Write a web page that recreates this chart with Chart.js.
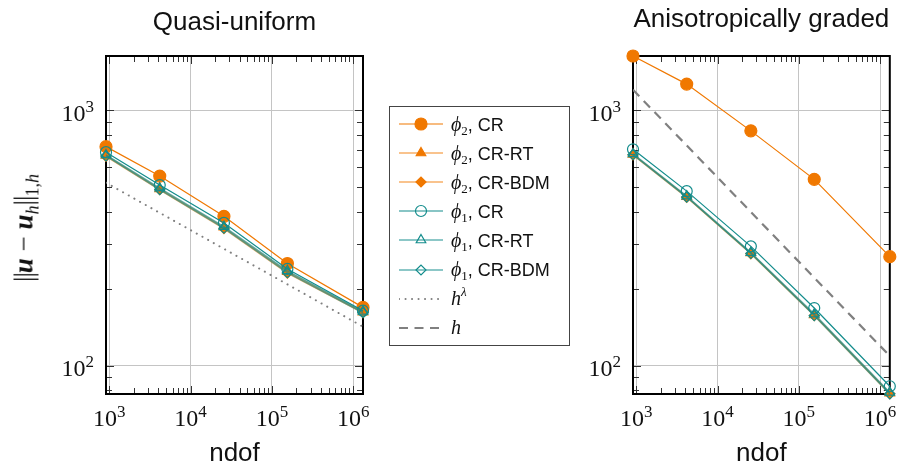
<!DOCTYPE html>
<html>
<head>
<meta charset="utf-8">
<script src="https://cdn.jsdelivr.net/npm/chart.js@4.4.0/dist/chart.umd.min.js"></script>
<style>
  body { margin: 0; background: #fff; }
  #wrap { position: relative; width: 897px; height: 467px; overflow: hidden; font-family: "Liberation Sans", Arial, sans-serif; }
  canvas.plot { position: absolute; top: 0; }
  #ylabel { position: absolute; left: 24px; top: 228px; transform: translate(-50%, -50%) rotate(-90deg);
            font-family: "Liberation Serif", "DejaVu Serif", serif; font-size: 27px; white-space: nowrap; color: #111; }
  #ylabel .bar { font-size: 27px; letter-spacing: -1px; font-weight: normal; }
  #ylabel sub { font-size: 18px; vertical-align: -6px; line-height: 0; }
  #legend { position: absolute; left: 389px; top: 106px; width: 181px; height: 240px; border: 1px solid #444; box-sizing: border-box; }
  .row { position: absolute; left: 9px; height: 22px; display: flex; align-items: center; font-size: 18px; color: #111; white-space: nowrap; }
  .row canvas { margin-right: 8px; }
  .m { font-family: "Liberation Serif", "DejaVu Serif", serif; font-style: italic; font-size: 20px; }
  .m sub { font-size: 13px; font-style: normal; vertical-align: -4px; line-height: 0; }
  .m sup { font-size: 13px; vertical-align: 9px; line-height: 0; }
</style>
</head>
<body>
<div id="wrap">
  <canvas id="left" class="plot" width="380" height="467" style="left:0;width:380px;height:467px"></canvas>
  <canvas id="right" class="plot" width="322" height="467" style="left:575px;width:322px;height:467px"></canvas>
  <div id="ylabel"><span class="bar">||</span><b><i>u</i></b> − <b><i>u</i></b><sub><i>h</i></sub><span class="bar">||</span><sub>1,<i>h</i></sub></div>
  <div id="legend"></div>
</div>
<script>
// degrees of freedom (x values)
const ndof = [910, 4170, 25700, 155000, 1320000];
const refNdof = [910, 1320000];

// Quasi-uniform meshes
const quasiPhi2CR  = [720, 552, 384, 251, 169];
const quasiPhi2RT  = [665, 492, 348, 233, 162];
const quasiPhi2BDM = [660, 488, 344, 230, 161];
const quasiPhi1CR  = [685, 509, 362, 239, 164];
const quasiPhi1RT  = [668, 495, 350, 235, 163];
const quasiPhi1BDM = [662, 489, 345, 231, 161];
const quasiHLambda = [520, 142];

// Anisotropically graded meshes
const anisoPhi2CR  = [1630, 1265, 830, 536, 267];
const anisoPhi2RT  = [672, 459, 276, 158, 78];
const anisoPhi2BDM = [668, 456, 274, 157, 77.5];
const anisoPhi1CR  = [703, 482, 293, 168, 83];
const anisoPhi1RT  = [674, 461, 277, 159, 78.5];
const anisoPhi1BDM = [669, 457, 275, 157, 77.5];
const anisoH       = [1202, 109];

const xTicks = [1e3, 1e4, 1e5, 1e6];
const yTicks = [1e2, 1e3];
const xRange = [910, 1320000];
const yRange = [77.4, 1630];

const ORANGE = '#f07800';
const ORANGE_FAINT = 'rgba(240,120,0,0.6)';
const TEAL = '#128c8c';
const TEAL_FAINT = 'rgba(18,140,140,0.65)';
const GRAY = '#808080';
const SANS = '"Liberation Sans", Arial, sans-serif';
const SERIF = '"Liberation Serif", "DejaVu Serif", serif';

const series = [
  {label: '<span class="m">ϕ<sub>2</sub></span>, CR',     line: ORANGE,      color: ORANGE, style: 'circle',   r: 6,   fill: true},
  {label: '<span class="m">ϕ<sub>2</sub></span>, CR-RT',  line: ORANGE_FAINT, color: ORANGE, style: 'triangle', r: 5.5, fill: true},
  {label: '<span class="m">ϕ<sub>2</sub></span>, CR-BDM', line: ORANGE_FAINT, color: ORANGE, style: 'rectRot',  r: 5,   fill: true},
  {label: '<span class="m">ϕ<sub>1</sub></span>, CR',     line: TEAL,        color: TEAL,   style: 'circle',   r: 5.5, fill: false},
  {label: '<span class="m">ϕ<sub>1</sub></span>, CR-RT',  line: TEAL_FAINT,  color: TEAL,   style: 'triangle', r: 5.5, fill: false},
  {label: '<span class="m">ϕ<sub>1</sub></span>, CR-BDM', line: TEAL_FAINT,  color: TEAL,   style: 'rectRot',  r: 5,   fill: false},
];
const refs = [
  {label: '<span class="m">h<sup>λ</sup></span>', dash: [0.1, 6.4], width: 2, cap: 'round'},
  {label: '<span class="m">h</span>', dash: [9, 6.5], width: 2.2, cap: 'butt'},
];

function pts(values, xs) {
  return values.map((v, i) => ({x: xs[i], y: v}));
}

function decadeValues(min, max) {
  const out = [];
  for (let d = Math.floor(Math.log10(min)); d <= Math.ceil(Math.log10(max)); d++) {
    for (let k = 1; k <= 9; k++) {
      const v = k * Math.pow(10, d);
      if (v >= min && v <= max) out.push({v, major: k === 1});
    }
  }
  return out;
}

// axis box + inside tick marks (pgfplots look)
const frame = {
  id: 'frame',
  beforeDatasetsDraw(chart) {
    const {ctx, chartArea: a, scales: {x, y}} = chart;
    ctx.save();
    ctx.strokeStyle = '#333';
    ctx.lineWidth = 1;
    ctx.beginPath();
    for (const t of decadeValues(x.min, x.max)) {
      const px = Math.round(x.getPixelForValue(t.v)) + 0.5;
      const len = t.major ? 8 : 6;
      ctx.moveTo(px, a.top); ctx.lineTo(px, a.top + len);
      ctx.moveTo(px, a.bottom); ctx.lineTo(px, a.bottom - len);
    }
    for (const t of decadeValues(y.min, y.max)) {
      const py = Math.round(y.getPixelForValue(t.v)) + 0.5;
      const len = t.major ? 8 : 6;
      ctx.moveTo(a.left, py); ctx.lineTo(a.left + len, py);
      ctx.moveTo(a.right, py); ctx.lineTo(a.right - len, py);
    }
    ctx.stroke();
    ctx.strokeStyle = '#000';
    ctx.lineWidth = 2;
    ctx.strokeRect(a.left, a.top, a.right - a.left, a.bottom - a.top);
    ctx.restore();
  },
  afterDraw(chart) {
    const {ctx, chartArea: a, scales: {x, y}} = chart;
    ctx.save();
    ctx.fillStyle = '#111';
    ctx.textBaseline = 'alphabetic';
    const pow = (exp, px, base, align) => {
      ctx.font = '24px ' + SERIF;
      const w1 = ctx.measureText('10').width;
      ctx.font = '17px ' + SERIF;
      const w2 = ctx.measureText(String(exp)).width;
      const left = align === 'center' ? px - (w1 + w2) / 2 : px - w1 - w2;
      ctx.textAlign = 'left';
      ctx.font = '24px ' + SERIF;
      ctx.fillText('10', left, base);
      ctx.font = '17px ' + SERIF;
      ctx.fillText(String(exp), left + w1, base - 9);
    };
    for (const v of xTicks) pow(Math.round(Math.log10(v)), x.getPixelForValue(v), a.bottom + 32, 'center');
    for (const v of yTicks) pow(Math.round(Math.log10(v)), a.left - 12, y.getPixelForValue(v) + 10.5, 'right');
    ctx.restore();
  }
};

function makeChart(id, title, titlePad, values, refValues, ref, yWidth, padRight) {
  const datasets = values.map((vals, i) => {
    const s = series[i];
    return {
      data: pts(vals, ndof),
      showLine: true,
      borderColor: s.line,
      borderWidth: s.line === s.color ? 1.2 : 1.5,
      pointStyle: s.style,
      pointRadius: s.r,
      pointHoverRadius: s.r,
      pointBorderColor: s.color,
      pointBackgroundColor: s.fill ? s.color : 'rgba(0,0,0,0)',
      pointBorderWidth: 1.2,
      clip: false,
      order: 20 - i
    };
  });
  datasets.push({
    data: pts(refValues, refNdof),
    showLine: true,
    borderColor: GRAY,
    borderWidth: ref.width,
    borderDash: ref.dash,
    borderCapStyle: ref.cap,
    pointRadius: 0,
    order: 100
  });
  return new Chart(document.getElementById(id), {
    type: 'scatter',
    data: {datasets},
    plugins: [frame],
    options: {
      responsive: false,
      animation: false,
      layout: {padding: {left: 0, right: padRight, top: 0, bottom: 0}},
      plugins: {
        legend: {display: false},
        tooltip: {enabled: false},
        title: {
          display: true, text: title, fullSize: false, color: '#111',
          font: {family: SANS, size: 26, weight: 'normal', lineHeight: 1},
          padding: titlePad
        }
      },
      scales: {
        x: {
          type: 'logarithmic', min: xRange[0], max: xRange[1],
          afterBuildTicks: s => { s.ticks = xTicks.map(v => ({value: v})); },
          afterFit: s => { s.height = 73; },
          ticks: {display: false},
          grid: {color: '#c4c4c4', lineWidth: 1, drawTicks: false},
          border: {display: false},
          title: {display: true, text: 'ndof', color: '#111',
                  font: {family: SANS, size: 26, lineHeight: 1}, padding: {top: 0, bottom: 0}}
        },
        y: {
          type: 'logarithmic', min: yRange[0], max: yRange[1],
          afterBuildTicks: s => { s.ticks = yTicks.map(v => ({value: v})); },
          afterFit: s => { s.width = yWidth; },
          ticks: {display: false},
          grid: {color: '#c4c4c4', lineWidth: 1, drawTicks: false},
          border: {display: false}
        }
      }
    }
  });
}

makeChart('left', 'Quasi-uniform', {top: 10, bottom: 20},
  [quasiPhi2CR, quasiPhi2RT, quasiPhi2BDM, quasiPhi1CR, quasiPhi1RT, quasiPhi1BDM],
  quasiHLambda, refs[0], 106, 17);
makeChart('right', 'Anisotropically graded', {top: 7, bottom: 23},
  [anisoPhi2CR, anisoPhi2RT, anisoPhi2BDM, anisoPhi1CR, anisoPhi1RT, anisoPhi1BDM],
  anisoH, refs[1], 58, 6);

// legend
const legend = document.getElementById('legend');
const drawPoint = (Chart.helpers && Chart.helpers.drawPoint) ? Chart.helpers.drawPoint : null;
[...series, ...refs].forEach((s, i) => {
  const row = document.createElement('div');
  row.className = 'row';
  row.style.top = (6 + i * 29.1) + 'px';
  const c = document.createElement('canvas');
  c.width = 44; c.height = 22;
  row.appendChild(c);
  const span = document.createElement('span');
  span.innerHTML = s.label;
  row.appendChild(span);
  legend.appendChild(row);
  const ctx = c.getContext('2d');
  ctx.beginPath();
  ctx.moveTo(0, 11); ctx.lineTo(44, 11);
  if (s.dash) {
    ctx.strokeStyle = GRAY; ctx.lineWidth = s.width; ctx.lineCap = s.cap; ctx.setLineDash(s.dash);
    ctx.stroke();
    return;
  }
  ctx.strokeStyle = s.line; ctx.lineWidth = s.line === s.color ? 1.2 : 1.5;
  ctx.stroke();
  ctx.fillStyle = s.fill ? s.color : 'rgba(0,0,0,0)';
  ctx.strokeStyle = s.color; ctx.lineWidth = 1.2;
  if (drawPoint) {
    drawPoint(ctx, {pointStyle: s.style, radius: s.r, rotation: 0, borderWidth: 1.2}, 22, 11);
  } else {
    ctx.beginPath(); ctx.arc(22, 11, s.r, 0, Math.PI * 2); ctx.fill(); ctx.stroke();
  }
});
</script>
</body>
</html>
